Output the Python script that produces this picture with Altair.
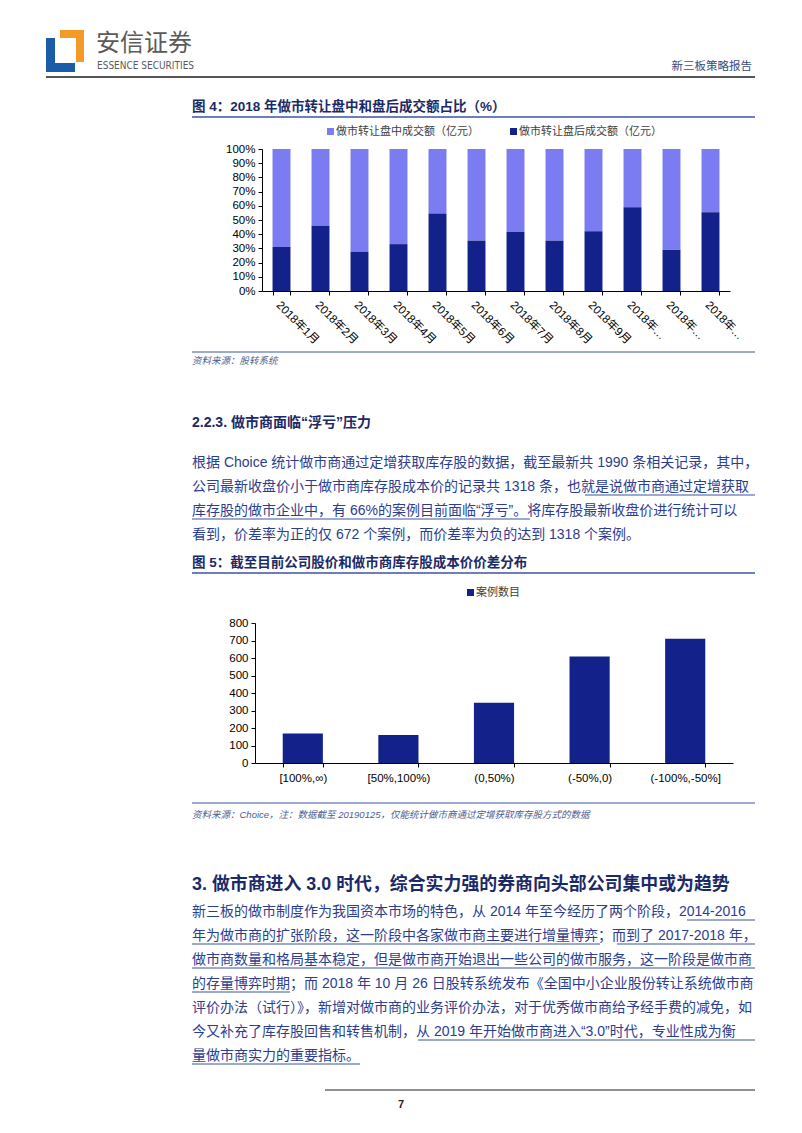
import altair as alt
import pandas as pd

W, H = 802, 1133

# ---------------- data ----------------
months = ["2018年1月", "2018年2月", "2018年3月", "2018年4月", "2018年5月", "2018年6月",
          "2018年7月", "2018年8月", "2018年9月", "2018年10月", "2018年11月", "2018年12月"]
after_close = [31, 46, 27.5, 33, 54.5, 35.5, 41.5, 35.5, 42, 59, 29, 55.5]
intraday = [69, 54, 72.5, 67, 45.5, 64.5, 58.5, 64.5, 58, 41, 71, 44.5]
series_names = ["做市转让盘中成交额（亿元）", "做市转让盘后成交额（亿元）"]

spread_bins = ["[100%,∞)", "[50%,100%)", "(0,50%)", "(-50%,0)", "(-100%,-50%]"]
case_counts = [168, 160, 344, 608, 710]
legend2_name = "案例数目"

para1 = [
    "根据 Choice 统计做市商通过定增获取库存股的数据，截至最新共 1990 条相关记录，其中，",
    "公司最新收盘价小于做市商库存股成本价的记录共 1318 条，也就是说做市商通过定增获取",
    "库存股的做市企业中，有 66%的案例目前面临“浮亏”。将库存股最新收盘价进行统计可以",
    "看到，价差率为正的仅 672 个案例，而价差率为负的达到 1318 个案例。",
]
para2 = [
    "新三板的做市制度作为我国资本市场的特色，从 2014 年至今经历了两个阶段，2014-2016",
    "年为做市商的扩张阶段，这一阶段中各家做市商主要进行增量博弈；而到了 2017-2018 年，",
    "做市商数量和格局基本稳定，但是做市商开始退出一些公司的做市服务，这一阶段是做市商",
    "的存量博弈时期；而 2018 年 10 月 26 日股转系统发布《全国中小企业股份转让系统做市商",
    "评价办法（试行）》，新增对做市商的业务评价办法，对于优秀做市商给予经手费的减免，如",
    "今又补充了库存股回售和转售机制，从 2019 年开始做市商进入“3.0”时代，专业性成为衡",
    "量做市商实力的重要指标。",
]

# ---------------- styles ----------------
LAT = "Liberation Sans, Noto Sans CJK SC"
CJK = "Noto Sans CJK SC, Liberation Sans"
LIGHT = "#7b7bf2"
DARK = "#13218a"
BODY = "#2b3d8f"
TITLE = "#1b2a66"
LINEC = "#3b55a3"
SRC = "#4d5d8f"

one = pd.DataFrame({"k": [0]})


def txt(s, x, y, size=14, color=BODY, weight="normal", font=LAT, align="left", italic=False):
    kw = dict(align=align, baseline="middle", fontSize=size, font=font,
              fontWeight=weight, color=color)
    if italic:
        kw["fontStyle"] = "italic"
    return alt.Chart(pd.DataFrame({"t": [s]})).mark_text(**kw).encode(
        text="t:N", x=alt.value(x), y=alt.value(y))


def hline(x1, x2, y, color=LINEC, width=1.0):
    return alt.Chart(one).mark_rule(color=color, strokeWidth=width).encode(
        x=alt.value(x1), x2=alt.value(x2), y=alt.value(y))


def box(x1, x2, y1, y2, color):
    return alt.Chart(one).mark_rect(color=color).encode(
        x=alt.value(x1), x2=alt.value(x2), y=alt.value(y1), y2=alt.value(y2))


layers = []

# ---------------- header ----------------
LOGO_B, LOGO_O = "#1a5ca8", "#f29b26"
layers += [
    box(60, 84, 30, 38, LOGO_O), box(76, 84, 30, 62, LOGO_O),
    box(46, 55, 38, 72, LOGO_B), box(46, 75, 63, 72, LOGO_B),
    txt("安信证券", 96, 44, size=24, color="#5a5a5a", font=CJK),
    txt("ESSENCE SECURITIES", 97, 66, size=10, color="#5a5a5a",
        font="DejaVu Sans Condensed, Liberation Sans Narrow, Liberation Sans"),
    txt("新三板策略报告", 752, 67, size=11.5, color="#3a4a7a", font=CJK, align="right"),
    hline(46, 755, 77, color="#555555", width=2),
]

# ---------------- figure 4 ----------------
layers += [
    txt("图 4：2018 年做市转让盘中和盘后成交额占比（%）", 192, 107, size=13.5,
        color=TITLE, weight="bold"),
    hline(192, 755, 117, width=1.5),
    box(327, 334, 128, 135, LIGHT),
    txt(series_names[0], 336, 131.5, size=11, color="#404040", font=CJK),
    box(510, 517, 128, 135, DARK),
    txt(series_names[1], 519, 131.5, size=11, color="#404040", font=CJK),
]

df1 = pd.DataFrame({
    "month": months + months,
    "series": [series_names[0]] * 12 + [series_names[1]] * 12,
    "value": intraday + after_close,
    "ord": [1] * 12 + [0] * 12,
})

bars1 = alt.Chart(df1).mark_bar().encode(
    x=alt.X("month:N", sort=months,
            scale=alt.Scale(domain=months, range=[262, 730], paddingInner=0.54, paddingOuter=0.27),
            axis=alt.Axis(orient="bottom", offset=291 - H, title=None, labelAngle=45,
                          labelFont=LAT, labelFontSize=11.5, labelColor="#000",
                          labelPadding=4, tickBand="extent", tickSize=4,
                          domainColor="#000", tickColor="#000",
                          labelExpr="length(datum.label) > 7 ? slice(datum.label, 0, 5) + '…' : datum.label")),
    y=alt.Y("value:Q", stack="zero",
            scale=alt.Scale(domain=[0, 100], range=[291, 149], nice=False),
            axis=alt.Axis(orient="left", offset=-262, title=None, grid=False,
                          values=list(range(0, 101, 10)), labelExpr="datum.value + '%'",
                          labelFont=LAT, labelFontSize=11.5, labelColor="#000",
                          tickSize=4, domainColor="#000", tickColor="#000", labelPadding=3)),
    color=alt.Color("series:N", scale=alt.Scale(domain=series_names, range=[LIGHT, DARK]), legend=None),
    order=alt.Order("ord:Q"),
)
layers.append(bars1)

layers += [
    hline(192, 755, 352),
    txt("资料来源：股转系统", 192, 361, size=9.5, color=SRC, font=CJK, italic=True),
]

# ---------------- section 2.2.3 ----------------
layers.append(txt("2.2.3. 做市商面临“浮亏”压力", 192, 423, size=14, color=TITLE, weight="bold"))
for i, line in enumerate(para1):
    layers.append(txt(line, 192, 463 + 24 * i))
layers += [hline(585, 755, 495, width=1.2), hline(192, 530, 519, width=1.2)]

# ---------------- figure 5 ----------------
layers += [
    txt("图 5：截至目前公司股价和做市商库存股成本价价差分布", 192, 563, size=13.5,
        color=TITLE, weight="bold"),
    hline(192, 755, 573, width=1.5),
    box(467, 474, 589, 596, DARK),
    txt(legend2_name, 476, 592.5, size=11, color="#404040", font=CJK),
]

df2 = pd.DataFrame({"bin": spread_bins, "count": case_counts})
bars2 = alt.Chart(df2).mark_bar(color=DARK).encode(
    x=alt.X("bin:N", sort=spread_bins,
            scale=alt.Scale(domain=spread_bins, range=[255, 733], paddingInner=0.58, paddingOuter=0.29),
            axis=alt.Axis(orient="bottom", offset=763 - H, title=None, labelAngle=0,
                          labelFont=LAT, labelFontSize=11.5, labelColor="#000",
                          labelPadding=5, tickBand="extent", tickSize=4,
                          domainColor="#000", tickColor="#000")),
    y=alt.Y("count:Q",
            scale=alt.Scale(domain=[0, 800], range=[763, 623], nice=False),
            axis=alt.Axis(orient="left", offset=-255, title=None, grid=False,
                          values=list(range(0, 801, 100)),
                          labelFont=LAT, labelFontSize=11.5, labelColor="#000",
                          tickSize=4, domainColor="#000", tickColor="#000", labelPadding=3)),
)
layers.append(bars2)

layers += [
    hline(192, 755, 803),
    txt("资料来源：Choice，注：数据截至 20190125，仅能统计做市商通过定增获取库存股方式的数据",
        192, 815, size=9.5, color=SRC, italic=True),
]

# ---------------- section 3 ----------------
layers.append(txt("3. 做市商进入 3.0 时代，综合实力强的券商向头部公司集中或为趋势", 192, 885,
                  size=17.9, color=TITLE, weight="bold"))
for i, line in enumerate(para2):
    layers.append(txt(line, 192, 912 + 24 * i))
ul = [(687, 755, 0), (192, 600, 1), (617, 755, 1), (192, 755, 2), (192, 290, 3),
      (418, 755, 5), (192, 360, 6)]
for a, b, k in ul:
    layers.append(hline(a, b, 920 + 24 * k, width=1.2))

layers += [
    hline(325, 755, 1090, color="#222222", width=1),
    txt("7", 398, 1105, size=11, color="#222222", weight="bold"),
]

chart = alt.layer(*layers).resolve_scale(
    x="independent", y="independent", color="independent"
).resolve_axis(x="independent", y="independent").properties(
    width=W, height=H, autosize="none", padding=0, background="white"
).configure_view(stroke=None)

chart.save("out.html", embed_options={"renderer": "svg", "actions": False})
